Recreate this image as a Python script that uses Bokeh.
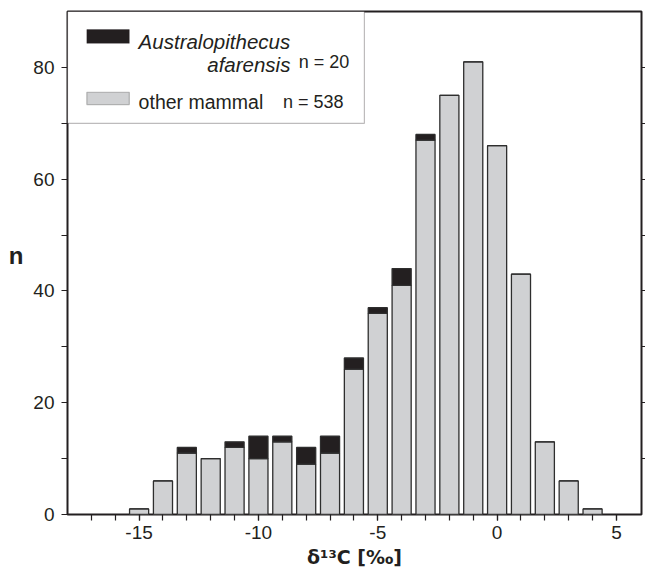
from bokeh.plotting import figure
from bokeh.models import (ColumnDataSource, Range1d, FixedTicker, LinearAxis,
                          Label, BoxAnnotation)
from bokeh.embed import file_html
from bokeh.resources import INLINE

# ---- data ----
centers = [-15, -14, -13, -12, -11, -10, -9, -8, -7, -6, -5, -4, -3, -2, -1, 0, 1, 2, 3, 4]
other_mammal = [1, 6, 11, 10, 12, 10, 13, 9, 11, 26, 36, 41, 67, 75, 81, 66, 43, 13, 6, 1]
afarensis = [0, 0, 1, 0, 1, 4, 1, 3, 3, 2, 1, 3, 1, 0, 0, 0, 0, 0, 0, 0]
x_ticks = [-15, -10, -5, 0, 5]
x_tick_labels = ["-15", "-10", "-5", "0", "5"]
x_minor = list(range(-17, 6))
y_ticks = [0, 20, 40, 60, 80]
y_minor = [10, 30, 50, 70]
y_right_ticks = [10, 20, 30, 40, 50, 60, 70, 80]

INK = "#231f20"
GRAY = "#d0d1d3"
FONT = "Liberation Sans"

src = ColumnDataSource(dict(x=centers, other=other_mammal, afar=afarensis))

p = figure(frame_width=574, frame_height=503,
           x_range=Range1d(-18, 6.05), y_range=Range1d(0, 90),
           output_backend="svg", toolbar_location=None,
           min_border_left=67, min_border_top=11, min_border_bottom=58,
           min_border_right=0)
p.xgrid.visible = False
p.ygrid.visible = False
p.outline_line_color = INK
p.outline_line_width = 2
p.background_fill_color = "white"
p.border_fill_color = "white"

p.vbar_stack(["other", "afar"], x="x", width=0.8, source=src,
             fill_color=[GRAY, INK], line_color="#2e2e2e", line_width=1.3)

def style_axis(ax, ticks, minor):
    ax.ticker = FixedTicker(ticks=ticks, minor_ticks=minor)
    ax.axis_line_color = None
    ax.major_tick_in = 0
    ax.minor_tick_in = 0
    ax.major_tick_out = 6
    ax.minor_tick_out = 6
    ax.major_tick_line_color = INK
    ax.minor_tick_line_color = INK
    ax.major_tick_line_width = 1.2
    ax.minor_tick_line_width = 1.2
    ax.major_label_text_font = FONT
    ax.major_label_text_font_size = "19px"
    ax.major_label_text_color = INK

xa = p.xaxis[0]
style_axis(xa, x_ticks, x_minor)
xa.major_label_overrides = {t: s for t, s in zip(x_ticks, x_tick_labels)}
xa.major_label_standoff = 5
xa.axis_label = "δ¹³C [‰]"
xa.axis_label_text_font = "DejaVu Sans"
xa.axis_label_text_font_style = "bold"
xa.axis_label_text_font_size = "19px"
xa.axis_label_text_color = INK
xa.axis_label_standoff = 4

ya = p.yaxis[0]
style_axis(ya, y_ticks, y_minor)
ya.major_label_standoff = 7

# outer left axis carrying the horizontal "n" title
ntitle = LinearAxis()
ntitle.ticker = FixedTicker(ticks=[46.3], minor_ticks=[])
ntitle.major_label_overrides = {46.3: "n"}
ntitle.axis_line_color = None
ntitle.major_tick_line_color = None
ntitle.major_tick_out = 0
ntitle.major_tick_in = 0
ntitle.minor_tick_out = 0
ntitle.minor_tick_in = 0
ntitle.major_label_text_font = FONT
ntitle.major_label_text_font_style = "bold"
ntitle.major_label_text_font_size = "24px"
ntitle.major_label_text_color = INK
ntitle.major_label_standoff = 7
p.add_layout(ntitle, "left")

right = LinearAxis()
style_axis(right, y_right_ticks, [])
right.major_tick_out = 4
right.major_label_overrides = {t: "" for t in y_right_ticks}
right.major_label_standoff = 0
p.add_layout(right, "right")

# ---- legend box ----
p.add_layout(BoxAnnotation(left=-18, right=-5.56, bottom=70, top=90,
                           fill_color="white", fill_alpha=1,
                           line_color=INK, line_width=1.2))
p.add_layout(BoxAnnotation(left=-17.19, right=-15.41, bottom=84.3, top=86.76,
                           fill_color=INK, fill_alpha=1,
                           line_color=INK, line_width=1))
p.add_layout(BoxAnnotation(left=-17.19, right=-15.41, bottom=73.35, top=75.55,
                           fill_color=GRAY, fill_alpha=1,
                           line_color="#2e2e2e", line_width=1.2))

def lab(x, y, text, size="19px", align="left", style="normal"):
    p.add_layout(Label(x=x, y=y, text=text, text_font=FONT, text_font_size=size,
                       text_font_style=style, text_color=INK, text_align=align,
                       text_baseline="alphabetic"))

lab(-15.02, 84.67, "Australopithecus", size="20.5px", style="italic")
lab(-8.66, 80.6, "afarensis", size="20.5px", align="right", style="italic")
lab(-8.31, 80.9, "n = 20", size="18px")
lab(-15.02, 73.76, "other mammal", size="19.5px")
lab(-8.97, 73.76, "n = 538", size="18px")

open("out.html", "w").write(file_html(p, INLINE))
